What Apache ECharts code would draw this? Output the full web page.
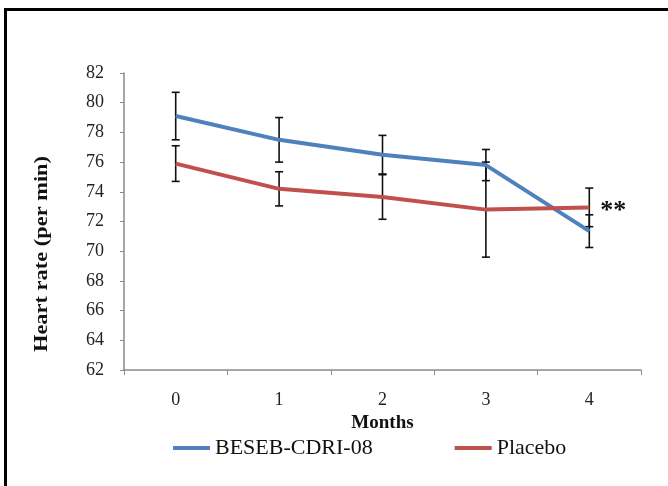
<!DOCTYPE html>
<html>
<head>
<meta charset="utf-8">
<script src="https://cdn.jsdelivr.net/npm/echarts@6/dist/echarts.min.js"></script>
<style>
  html, body { margin: 0; padding: 0; background: #fff; }
  #chart { width: 668px; height: 486px; }
</style>
</head>
<body>
<div id="chart"></div>
<script>
// data
var months = ['0', '1', '2', '3', '4'];
var yTicks = [62, 64, 66, 68, 70, 72, 74, 76, 78, 80, 82];
var beseb = [79.1, 77.5, 76.5, 75.8, 71.35];
var besebErr = [1.6, 1.5, 1.3, 1.05, 1.1];
var placebo = [75.9, 74.2, 73.65, 72.8, 72.95];
var placeboErr = [1.2, 1.15, 1.5, 3.2, 1.3];

var font = '"Liberation Serif", "Times New Roman", serif';

// error bar rows: [index, low, high]
function errRows(vals, errs){
  return vals.map(function(v, i){
    return [i, v - errs[i], v + errs[i]];
  });
}

function renderErr(params, api){
  var x = api.coord([api.value(0), api.value(1)])[0];
  var lo = api.coord([api.value(0), api.value(1)])[1];
  var hi = api.coord([api.value(0), api.value(2)])[1];
  var w = 4;
  var st = { stroke: '#111', lineWidth: 1.6 };
  return {
    type: 'group',
    children: [
      {type: 'line', shape: {x1: x, y1: lo, x2: x, y2: hi}, style: st},
      {type: 'line', shape: {x1: x - w, y1: lo, x2: x + w, y2: lo}, style: st},
      {type: 'line', shape: {x1: x - w, y1: hi, x2: x + w, y2: hi}, style: st}
    ]
  };
}

var chart = echarts.init(document.getElementById('chart'));

chart.setOption({
  animation: false,
  backgroundColor: '#fff',
  textStyle: { fontFamily: font },
  grid: { left: 124, right: 27, top: 73, bottom: 116 },
  legend: {
    left: 173, top: 437, padding: 0,
    icon: 'rect', itemWidth: 37, itemHeight: 4, itemGap: 82,
    textStyle: { fontFamily: font, fontSize: 22, color: '#111' },
    data: ['BESEB-CDRI-08', 'Placebo']
  },
  xAxis: {
    type: 'category',
    data: months,
    boundaryGap: true,
    name: 'Months',
    nameLocation: 'middle',
    nameGap: 40,
    nameTextStyle: { fontFamily: font, fontSize: 19, fontWeight: 'bold', color: '#111' },
    axisLine: { lineStyle: { color: '#8a8a8a', width: 1.5 } },
    axisTick: { show: true, inside: false, length: 5, lineStyle: { color: '#8a8a8a' } },
    axisLabel: { fontFamily: font, fontSize: 18, color: '#222', margin: 21 },
    splitLine: { show: false }
  },
  yAxis: {
    type: 'value',
    min: yTicks[0], max: yTicks[yTicks.length - 1], interval: 2,
    axisLine: { show: true, lineStyle: { color: '#8a8a8a', width: 1.5 } },
    axisTick: { show: true, inside: false, length: 4, lineStyle: { color: '#8a8a8a' } },
    axisLabel: { fontFamily: font, fontSize: 18, color: '#222', margin: 20 },
    splitLine: { show: false }
  },
  graphic: [
    { type: 'line', shape: { x1: 4, y1: 9.5, x2: 668, y2: 9.5 }, style: { stroke: '#000', lineWidth: 3 } },
    { type: 'line', shape: { x1: 5.5, y1: 8, x2: 5.5, y2: 486 }, style: { stroke: '#000', lineWidth: 3 } },
    {
      type: 'text', x: 42, y: 254, rotation: Math.PI / 2, scaleX: 1.18,
      style: {
        text: 'Heart rate (per min)', fontFamily: font, fontSize: 19, fontWeight: 'bold',
        fill: '#111', align: 'center', verticalAlign: 'middle'
      }
    }
  ],
  series: [
    {
      type: 'custom', name: 'err1', z: 1, renderItem: renderErr,
      encode: { x: 0, y: [1, 2] }, data: errRows(beseb, besebErr), silent: true
    },
    {
      type: 'custom', name: 'err2', z: 1, renderItem: renderErr,
      encode: { x: 0, y: [1, 2] }, data: errRows(placebo, placeboErr), silent: true
    },
    {
      name: 'BESEB-CDRI-08', type: 'line', z: 3, data: beseb,
      showSymbol: false, symbol: 'none',
      itemStyle: { color: '#4f81bd' },
      lineStyle: { color: '#4f81bd', width: 4 }
    },
    {
      name: 'Placebo', type: 'line', z: 3, data: placebo,
      showSymbol: false, symbol: 'none',
      itemStyle: { color: '#c0504d' },
      lineStyle: { color: '#c0504d', width: 4 },
      endLabel: {
        show: true, formatter: '**', distance: 11, offset: [0, 4],
        fontFamily: font, fontSize: 26, fontWeight: 'bold', color: '#111'
      }
    }
  ]
});
</script>
</body>
</html>
